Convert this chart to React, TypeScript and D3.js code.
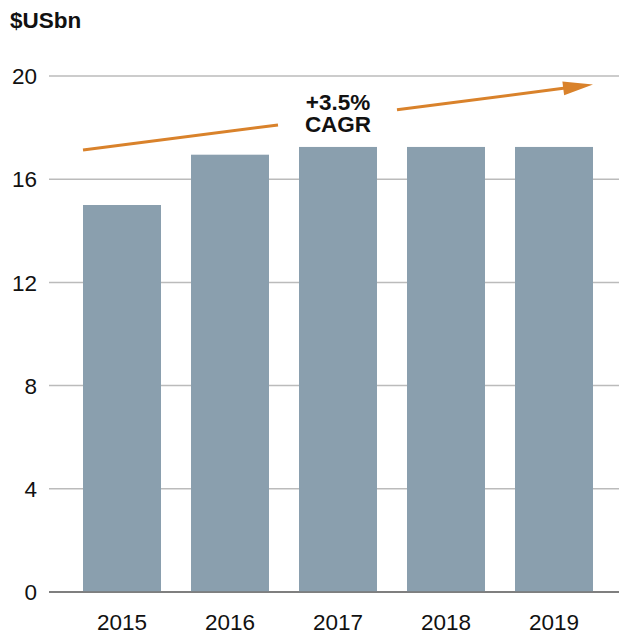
import React from "react";
import * as d3 from "d3";

const categories = ["2015", "2016", "2017", "2018", "2019"];
const values = [15.0, 16.95, 17.25, 17.25, 17.25];
const yTicks = [0, 4, 8, 12, 16, 20];
const unitLabel = "$USbn";
const cagrLines = ["+3.5%", "CAGR"];

export default function App() {
  const W = 619, H = 635;
  const x = d3.scaleBand<string>().domain(categories).range([68, 608]).paddingInner(0.2778).paddingOuter(0.1389);
  const y = d3.scaleLinear().domain([0, 20]).range([592, 76]);
  const font = "'Liberation Sans', Arial, sans-serif";
  const orange = "#d9822b";
  const fs = 22.5;
  // arrow geometry
  const x0 = 83, y0 = 150, x1 = 593, y1 = 84.5;
  const slope = (y1 - y0) / (x1 - x0);
  const at = (xx: number) => y0 + slope * (xx - x0);
  const headLen = 30;
  const ang = Math.atan2(y1 - y0, x1 - x0);
  const hb = { x: x1 - headLen * Math.cos(ang), y: y1 - headLen * Math.sin(ang) };
  const hw = 7;
  const p1 = { x: hb.x + hw * Math.sin(ang), y: hb.y - hw * Math.cos(ang) };
  const p2 = { x: hb.x - hw * Math.sin(ang), y: hb.y + hw * Math.cos(ang) };
  return (
    <svg width={W} height={H} style={{ position: "absolute", left: 0, top: 0, background: "#fff" }} fontFamily={font}>
      <text x={10} y={28} fontSize={fs} fontWeight="bold" fill="#111">{unitLabel}</text>
      {yTicks.map((t) => (
        <g key={t}>
          <line x1={49} x2={619} y1={y(t)} y2={y(t)} stroke={t === 0 ? "#777" : "#bbb"} strokeWidth={1.5} />
          <text x={37} y={y(t)} dy="0.36em" textAnchor="end" fontSize={fs} fill="#111">{t}</text>
        </g>
      ))}
      {categories.map((c, i) => (
        <rect key={c} x={x(c)} y={y(values[i])} width={x.bandwidth()} height={y(0) - y(values[i])} fill="#8a9fae" />
      ))}
      <line x1={49} x2={619} y1={y(0)} y2={y(0)} stroke="#777" strokeWidth={1.5} />
      {categories.map((c) => (
        <text key={c} x={(x(c) as number) + x.bandwidth() / 2} y={630} textAnchor="middle" fontSize={fs} fill="#111">{c}</text>
      ))}
      <line x1={x0} y1={y0} x2={278} y2={at(278)} stroke={orange} strokeWidth={3} />
      <line x1={397} y1={at(397)} x2={hb.x + 2} y2={hb.y + 2 * Math.sin(ang)} stroke={orange} strokeWidth={3} />
      <polygon points={`${x1},${y1} ${p1.x},${p1.y} ${p2.x},${p2.y}`} fill={orange} />
      <text x={338} y={110} textAnchor="middle" fontSize={fs} fontWeight="bold" fill="#111">{cagrLines[0]}</text>
      <text x={338} y={132} textAnchor="middle" fontSize={fs} fontWeight="bold" fill="#111">{cagrLines[1]}</text>
    </svg>
  );
}
